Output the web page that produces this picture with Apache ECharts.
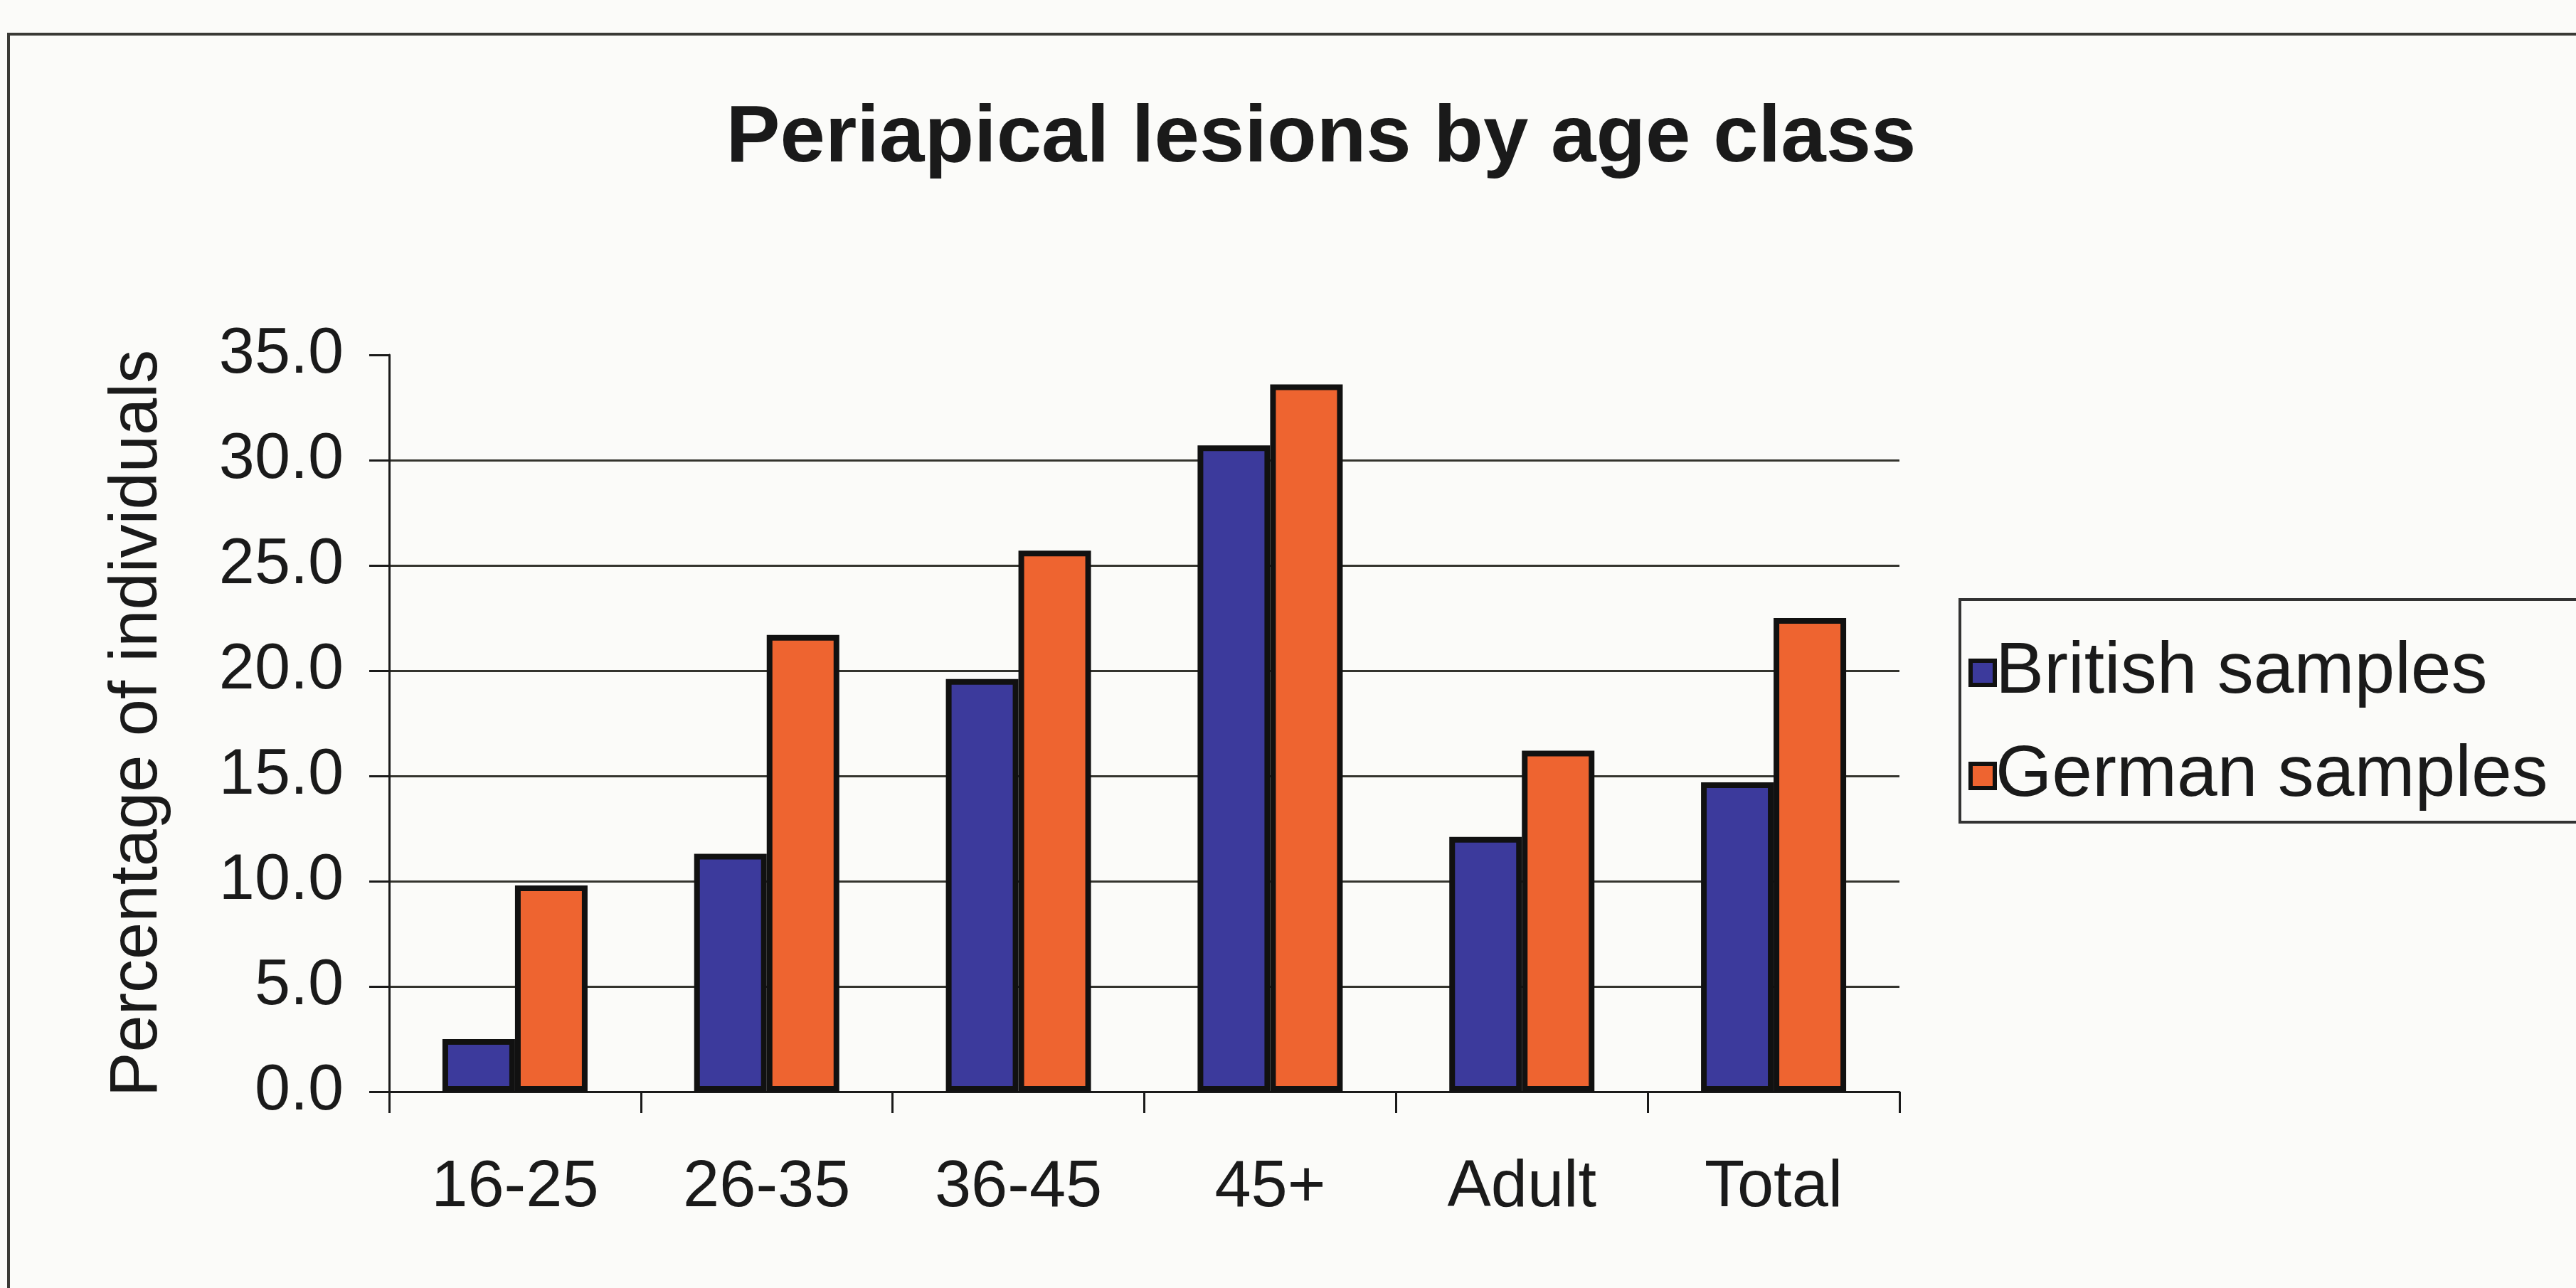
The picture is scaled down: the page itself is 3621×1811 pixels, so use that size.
<!DOCTYPE html>
<html>
<head>
<meta charset="utf-8">
<title>Periapical lesions by age class</title>
<script src="https://cdn.jsdelivr.net/npm/echarts@6/dist/echarts.min.js"></script>
<style>
  html, body { margin: 0; padding: 0; background: #fbfbf9; }
  #chart { width: 3621px; height: 1811px; }
</style>
</head>
<body>
<div id="chart"></div>
<script>
// data
const categories = ['16-25', '26-35', '36-45', '45+', 'Adult', 'Total']
const british = [2.5, 11.3, 19.6, 30.7, 12.1, 14.7]
const german = [9.8, 21.7, 25.7, 33.6, 16.2, 22.5]
const seriesNames = ['British samples', 'German samples']

const font = '"Liberation Sans", Arial, sans-serif'
const ink = '#1a1a1a'

const chart = echarts.init(document.getElementById('chart'))

chart.setOption({
  backgroundColor: '#fbfbf9',
  animation: false,
  textStyle: { fontFamily: font, color: ink },
  title: {
    text: 'Periapical lesions by age class',
    left: 1852,
    top: 134,
    textAlign: 'center',
    textStyle: { fontFamily: font, fontSize: 114, fontWeight: 'bold', color: ink }
  },
  graphic: [{
    // outer chart frame, only top and left edges visible in the crop
    type: 'rect',
    shape: { x: 12, y: 48, width: 3800, height: 2000 },
    style: { fill: 'none', stroke: '#3a3a36', lineWidth: 4 },
    silent: true
  }],
  legend: {
    orient: 'vertical',
    left: 2755,
    top: 843,
    padding: [52, 300, 14, 12],
    itemGap: 43,
    itemWidth: 34,
    itemHeight: 34,
    borderColor: '#333',
    borderWidth: 4,
    icon: 'rect',
    itemStyle: { borderColor: '#111', borderWidth: 6 },
    textStyle: { fontFamily: font, fontSize: 102, color: ink, lineHeight: 100, padding: [0, 0, 0, -4] },
    data: seriesNames
  },
  grid: {
    left: 547,
    right: 951,
    top: 499,
    bottom: 276,
    containLabel: false
  },
  xAxis: {
    type: 'category',
    data: categories,
    axisLine: { show: true, lineStyle: { color: ink, width: 3 } },
    axisTick: { show: true, length: 30, interval: 0, lineStyle: { color: ink, width: 3 } },
    axisLabel: { margin: 90, fontSize: 92, color: ink, fontFamily: font, interval: 0 },
    splitLine: { show: false }
  },
  yAxis: {
    type: 'value',
    min: 0,
    max: 35,
    interval: 5,
    name: 'Percentage of individuals',
    nameLocation: 'middle',
    nameGap: 306,
    nameTextStyle: { fontSize: 94, color: ink, fontFamily: font },
    axisLine: { show: true, lineStyle: { color: ink, width: 3 } },
    axisTick: { show: true, length: 28, lineStyle: { color: ink, width: 3 } },
    axisLabel: {
      margin: 64,
      fontSize: 90,
      color: ink,
      fontFamily: font,
      formatter: v => v.toFixed(1)
    },
    splitLine: { show: true, showMaxLine: false, lineStyle: { color: '#34342e', width: 3 } }
  },
  series: [
    {
      name: seriesNames[0],
      type: 'bar',
      data: british,
      barWidth: 102,
      barGap: '0%',
      itemStyle: { color: '#3c3a9c', borderColor: '#111', borderWidth: 8 }
    },
    {
      name: seriesNames[1],
      type: 'bar',
      data: german,
      barWidth: 102,
      barGap: '0%',
      itemStyle: { color: '#ee6430', borderColor: '#111', borderWidth: 8 }
    }
  ]
})
</script>
</body>
</html>
